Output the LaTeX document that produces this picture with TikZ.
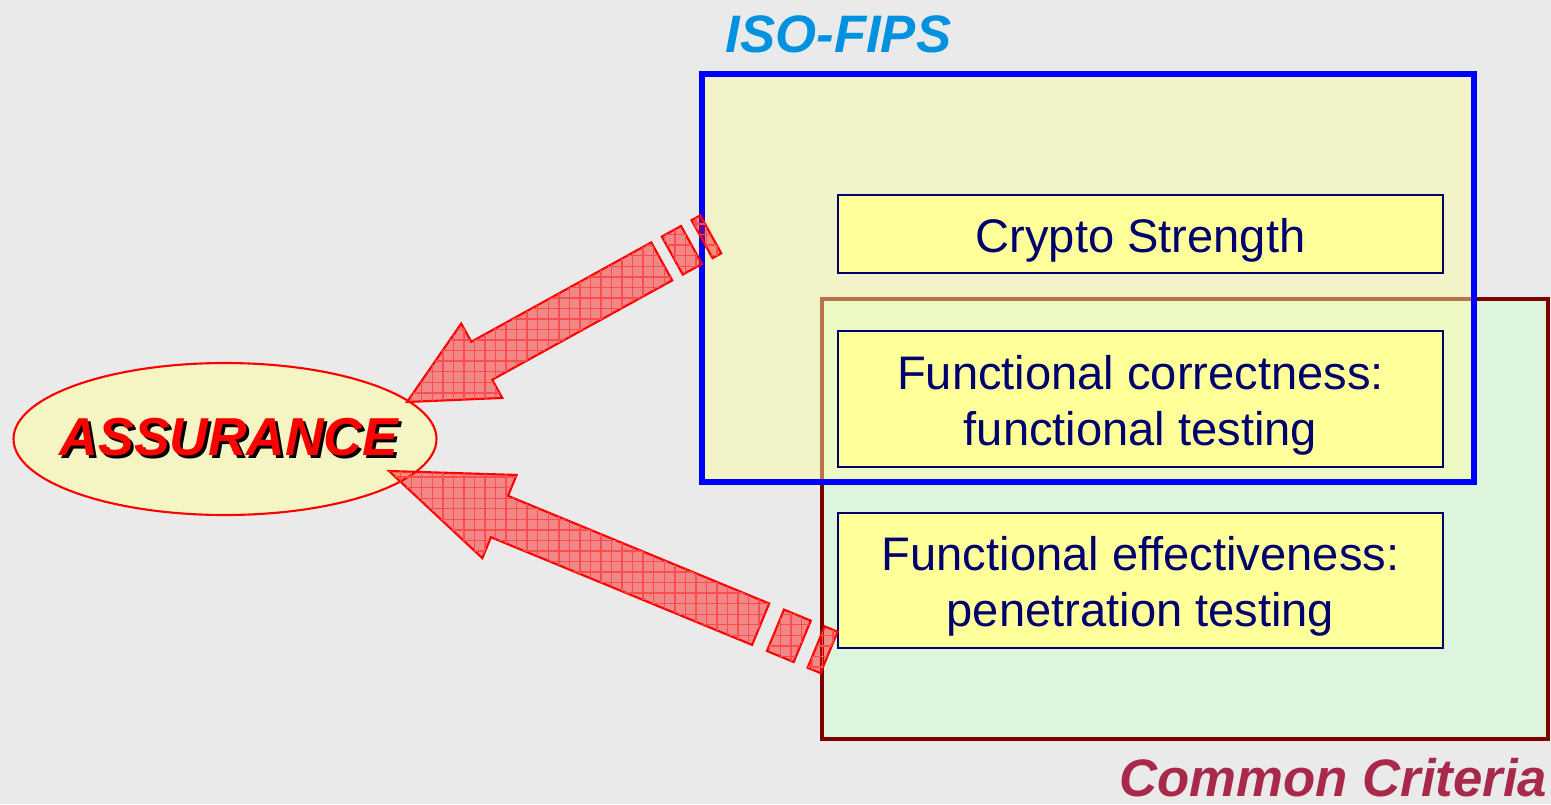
\documentclass[tikz,border=0pt]{standalone}
\usepackage{fontspec}
\setmainfont{Liberation Sans}
\usetikzlibrary{shapes.geometric,patterns,positioning}

\definecolor{bggrey}{RGB}{234,234,234}
\definecolor{fipsblue}{RGB}{0,145,225}
\definecolor{ccrose}{RGB}{168,41,74}
\definecolor{ccred}{RGB}{128,0,0}
\definecolor{ccgreen}{RGB}{221,245,221}
\definecolor{fipsyellow}{RGB}{255,255,165}
\definecolor{boxyellow}{RGB}{255,255,153}
\definecolor{ellyellow}{RGB}{245,245,195}
\definecolor{navy}{RGB}{0,0,110}

\tikzset{
  testbox/.style={draw=navy, line width=0.6pt, fill=boxyellow,
    minimum width=6.05cm, inner sep=0pt},
  testtext/.style={text=navy, align=center, inner sep=0pt,
    font=\fontsize{13.4}{15.9}\selectfont},
  biglabel/.style={font=\bfseries\itshape\fontsize{15}{18}\selectfont, anchor=base},
  bigarrow/.style={draw=red, line width=0.6pt, fill=red, fill opacity=0.42,
    postaction={pattern=grid, pattern color=red!70}}
}

\begin{document}
\begin{tikzpicture}
    \useasboundingbox (0,0) rectangle (15.51,8.04);
    \fill[bggrey] (0,0) rectangle (15.51,8.04);

    % the two overlapping areas
    \draw[ccred, line width=1.4pt, fill=ccgreen] (8.22,5.05) rectangle (15.48,0.65);
    \draw[blue, line width=1.7pt, fill=fipsyellow, fill opacity=0.45] (7.02,7.30) rectangle (14.74,3.22);
    \node[biglabel, text=fipsblue] (isolabel) at (8.385,7.52) {ISO-FIPS};
    \node[biglabel, text=ccrose] (cclabel) at (13.335,0.08) {Common Criteria};

    % what gets tested
    \node[testbox, minimum height=0.78cm] (crypto) at (11.405,5.70) {};
    \node[testbox, minimum height=1.36cm] (correct) at (11.405,4.05) {};
    \node[testbox, minimum height=1.35cm] (effect) at (11.405,2.235) {};
    \node[testtext] (cryptotext) at ([yshift=-0.06cm]crypto.center) {Crypto Strength};
    \node[testtext] (correcttext) at ([yshift=-0.06cm]correct.center) {Functional correctness:\\functional testing};
    \node[testtext] (effecttext) at ([yshift=-0.06cm]effect.center) {Functional effectiveness:\\penetration testing};

    % assurance bubble
    \node[ellipse, draw=red, line width=0.6pt, fill=ellyellow, minimum width=4.23cm,
          minimum height=1.52cm, inner sep=0pt] (assure) at (2.25,3.65) {};
    \coordinate (tipup) at (4.07,4.02);
    \coordinate (tiplow) at (3.89,3.33);

    % striped arrows into the bubble
    \begin{scope}[shift={(tipup)}, rotate=208.9]
        \filldraw[bigarrow] (0,0) -- (-0.854,0.425) -- (-0.854,0.217) -- (-2.91,0.217)
            -- (-2.91,-0.217) -- (-0.854,-0.217) -- (-0.854,-0.425) -- cycle;
        \filldraw[bigarrow] (-3.03,0.217) rectangle (-3.25,-0.217);
        \filldraw[bigarrow] (-3.37,0.217) rectangle (-3.47,-0.217);
    \end{scope}
    \begin{scope}[shift={(tiplow)}, rotate=157.6]
        \filldraw[bigarrow] (0,0) -- (-1.195,0.45) -- (-1.195,0.224) -- (-4.02,0.224)
            -- (-4.02,-0.224) -- (-1.195,-0.224) -- (-1.195,-0.45) -- cycle;
        \filldraw[bigarrow] (-4.18,0.224) rectangle (-4.47,-0.224);
        \filldraw[bigarrow] (-4.62,0.224) rectangle (-4.76,-0.224);
    \end{scope}

    \node[font=\bfseries\itshape\fontsize{15.2}{18}\selectfont, text=black] (assureshade) at (2.32,3.64) {ASSURANCE};
    \node[font=\bfseries\itshape\fontsize{15.2}{18}\selectfont, text=red] (assuretext) at (2.29,3.67) {ASSURANCE};
\end{tikzpicture}
\end{document}
